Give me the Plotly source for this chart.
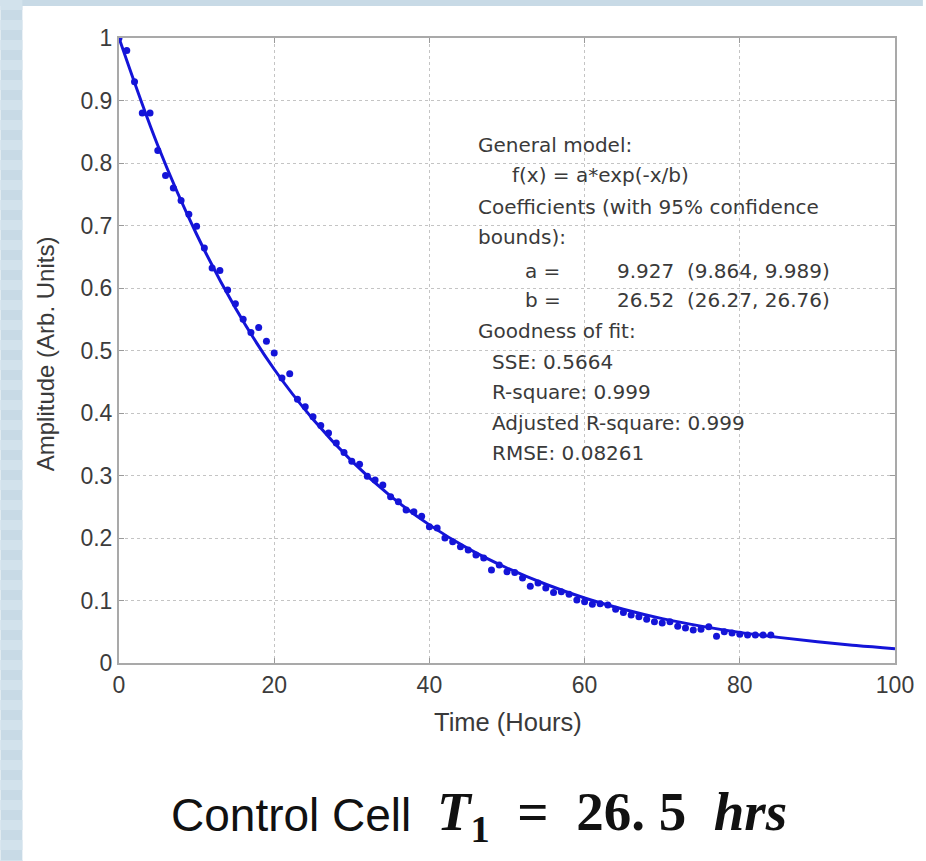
import plotly.graph_objects as go

# ---------------- data ----------------
time_hours = list(range(0, 85))
amplitude = [
    1.000, 0.980, 0.930, 0.880, 0.880, 0.820, 0.780, 0.760, 0.740, 0.718,
    0.699, 0.664, 0.632, 0.628, 0.597, 0.575, 0.550, 0.529, 0.537, 0.515,
    0.496, 0.456, 0.463, 0.422, 0.410, 0.394, 0.380, 0.368, 0.352, 0.337,
    0.323, 0.318, 0.299, 0.293, 0.285, 0.266, 0.258, 0.245, 0.242, 0.235,
    0.218, 0.216, 0.200, 0.194, 0.186, 0.181, 0.173, 0.168, 0.149, 0.157,
    0.146, 0.145, 0.136, 0.123, 0.128, 0.120, 0.113, 0.114, 0.110, 0.101,
    0.098, 0.094, 0.095, 0.093, 0.086, 0.081, 0.077, 0.074, 0.070, 0.066,
    0.064, 0.066, 0.059, 0.056, 0.053, 0.054, 0.058, 0.043, 0.050, 0.048,
    0.046, 0.045, 0.045, 0.045, 0.045,
]
fit_time = [0, 5, 10, 15, 20, 25, 30, 35, 40, 45, 50, 55, 60, 65, 70, 75, 80, 85, 90, 95, 100]
fit_amp = [1.000, 0.828, 0.686, 0.568, 0.470, 0.390, 0.323, 0.267, 0.221, 0.183, 0.152,
           0.126, 0.104, 0.086, 0.071, 0.059, 0.049, 0.041, 0.034, 0.028, 0.023]

x_ticks = [0, 20, 40, 60, 80, 100]
y_ticks = [0, 0.1, 0.2, 0.3, 0.4, 0.5, 0.6, 0.7, 0.8, 0.9, 1]
y_tick_text = ["0", "0.1", "0.2", "0.3", "0.4", "0.5", "0.6", "0.7", "0.8", "0.9", "1"]

fit_lines = [
    ("General model:", 46.0, 0.829),
    ("f(x) = a*exp(-x/b)", 50.4, 0.781),
    ("Coefficients (with 95% confidence", 46.0, 0.730),
    ("bounds):", 46.0, 0.681),
    ("a =", 52.1, 0.628),
    ("9.927  (9.864, 9.989)", 63.9, 0.628),
    ("b =", 52.1, 0.581),
    ("26.52  (26.27, 26.76)", 63.9, 0.581),
    ("Goodness of fit:", 46.0, 0.532),
    ("SSE: 0.5664", 47.8, 0.482),
    ("R-square: 0.999", 47.8, 0.434),
    ("Adjusted R-square: 0.999", 47.8, 0.384),
    ("RMSE: 0.08261", 47.8, 0.336),
]

# ---------------- figure ----------------
W, H = 926, 861
ML, MR, MT, MB = 119, 28, 38, 198
PW, PH = W - ML - MR, H - MT - MB

def px_x(px):
    return (px - ML) / PW

def px_y(py):
    return (H - MB - py) / PH

BLUE = "#1414d8"
fig = go.Figure()
fig.add_trace(go.Scatter(x=fit_time, y=fit_amp, mode="lines", line=dict(color=BLUE, width=3, shape="spline"),
                         showlegend=False, hoverinfo="skip"))
fig.add_trace(go.Scatter(x=time_hours, y=amplitude, mode="markers",
                         marker=dict(color=BLUE, size=7), showlegend=False))

axis_common = dict(
    showline=True, linecolor="#a9a9a9", linewidth=2, mirror="ticks",
    ticks="inside", ticklen=5, tickcolor="#9a9a9a",
    showgrid=True, gridcolor="#c4c4c4", griddash="dot", gridwidth=1,
    zeroline=False,
    tickfont=dict(family="Liberation Sans, Arial", size=23, color="#3c3c3c"),
)
fig.update_xaxes(range=[0, 100], tickvals=x_ticks, **axis_common)
fig.update_yaxes(range=[0, 1], tickvals=y_ticks, ticktext=y_tick_text, **axis_common)

shapes = []
strip = "#c8dae6"
shapes.append(dict(type="rect", xref="paper", yref="paper", x0=px_x(0), x1=px_x(22), y0=px_y(H), y1=px_y(0),
                   fillcolor=strip, line=dict(width=0), layer="below"))
shapes.append(dict(type="rect", xref="paper", yref="paper", x0=px_x(0), x1=px_x(W), y0=px_y(6), y1=px_y(0),
                   fillcolor=strip, line=dict(width=0), layer="below"))
for k in range(0, H, 20):
    shapes.append(dict(type="rect", xref="paper", yref="paper", x0=px_x(0), x1=px_x(22),
                       y0=px_y(k + 10), y1=px_y(k), fillcolor="#d2e2ec", line=dict(width=0), layer="below"))

annotations = []
for text, xv, yv in fit_lines:
    annotations.append(dict(x=xv, y=yv, xref="x", yref="y", text=text, showarrow=False,
                            xanchor="left", yanchor="middle",
                            font=dict(family="DejaVu Sans", size=20, color="#3a3a3a")))
annotations.append(dict(x=px_x(510), y=px_y(722), xref="paper", yref="paper", text="Time (Hours)", showarrow=False,
                        xanchor="center", yanchor="middle",
                        font=dict(family="Liberation Sans, Arial", size=25.5, color="#3a3a3a")))
annotations.append(dict(x=px_x(45), y=px_y(354), xref="paper", yref="paper", text="Amplitude (Arb. Units)",
                        showarrow=False, textangle=-90, xanchor="center", yanchor="middle",
                        font=dict(family="Liberation Sans, Arial", size=24, color="#3a3a3a")))
annotations.append(dict(x=px_x(292), y=px_y(815), xref="paper", yref="paper", text="Control Cell",
                        showarrow=False, xanchor="center", yanchor="middle",
                        font=dict(family="Liberation Sans Narrow, Liberation Sans, Arial", size=46, color="#111111")))
annotations.append(dict(x=px_x(614), y=px_y(815), xref="paper", yref="paper",
                        text="<b><i>T</i><sub>1</sub>&nbsp;&nbsp;=&nbsp;&nbsp;26.&nbsp;5&nbsp;&nbsp;<i>hrs</i></b>",
                        showarrow=False, xanchor="center", yanchor="middle",
                        font=dict(family="Liberation Serif, DejaVu Serif", size=55, color="#111111")))

fig.update_layout(
    width=W, height=H, autosize=False,
    margin=dict(l=ML, r=MR, t=MT, b=MB, pad=0),
    paper_bgcolor="white", plot_bgcolor="white",
    shapes=shapes, annotations=annotations,
    showlegend=False,
)

fig.write_html("out.html")
